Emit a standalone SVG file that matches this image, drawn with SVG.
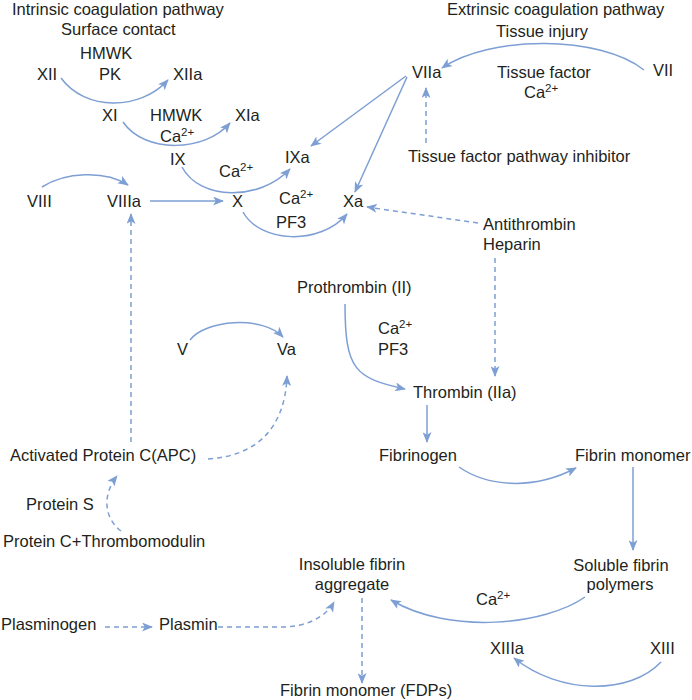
<svg xmlns="http://www.w3.org/2000/svg" width="692" height="700" viewBox="0 0 692 700">
<style>
text{font-family:"Liberation Sans",Arial,sans-serif;font-size:16.5px;fill:#231f20}
.sup{font-size:11.5px}
.c{fill:none;stroke:#7d9fd4;stroke-width:1.5}
.d{stroke-dasharray:5,4}
</style>
<defs>
<marker id="ah" viewBox="0 0 12 10" markerUnits="userSpaceOnUse" markerWidth="11" markerHeight="9" refX="11" refY="5" orient="auto">
<path d="M0,0 L12,5 L0,10 L3,5 z" fill="#7d9fd4"/>
</marker>
</defs>
<rect width="692" height="700" fill="#fff"/>
<g id="connectors">
<path class="c" d="M61,78 C85,111 140,111 168,80" marker-end="url(#ah)"/>
<path class="c" d="M123,122 C145,154 205,152 230,123" marker-end="url(#ah)"/>
<path class="c" d="M182,167 C200,201 260,201 290,169" marker-end="url(#ah)"/>
<path class="c" d="M406,76 L311,146" marker-end="url(#ah)"/>
<path class="c" d="M407,77 L355,192" marker-end="url(#ah)"/>
<path class="c" d="M644,70 C600,35 490,35 442,68" marker-end="url(#ah)"/>
<path class="c d" d="M426,143 L426,88" marker-end="url(#ah)"/>
<path class="c" d="M42,187 C65,172 105,170 128,185" marker-end="url(#ah)"/>
<path class="c" d="M150,201 L223,201" marker-end="url(#ah)"/>
<path class="c" d="M243,212 C260,243 320,246 347,214" marker-end="url(#ah)"/>
<path class="c d" d="M478,223 L367,207" marker-end="url(#ah)"/>
<path class="c d" d="M495,258 L495,376" marker-end="url(#ah)"/>
<path class="c" d="M345,304 C345,370 355,378 405,389" marker-end="url(#ah)"/>
<path class="c" d="M427,405 L427,442" marker-end="url(#ah)"/>
<path class="c" d="M459,467 C485,485 530,492 576,468" marker-end="url(#ah)"/>
<path class="c" d="M633,467 L633,550" marker-end="url(#ah)"/>
<path class="c" d="M585,597 C545,625 450,635 391,600" marker-end="url(#ah)"/>
<path class="c d" d="M362,598 L362,683" marker-end="url(#ah)"/>
<path class="c d" d="M105,627 L152,627" marker-end="url(#ah)"/>
<path class="c d" d="M218,627 L282,627 C305,627 325,618 334,602" marker-end="url(#ah)"/>
<path class="c d" d="M131,442 L131,214" marker-end="url(#ah)"/>
<path class="c d" d="M208,459 C255,456 285,430 287,376" marker-end="url(#ah)"/>
<path class="c d" d="M121,531 C104,518 102,495 117,476" marker-end="url(#ah)"/>
<path class="c" d="M190,340 C205,320 262,315 283,337" marker-end="url(#ah)"/>
<path class="c" d="M661,662 C630,695 560,695 514,658" marker-end="url(#ah)"/>
</g>
<g id="intrinsic-title"><text x="12" y="15">Intrinsic coagulation pathway</text><text x="61" y="35">Surface contact</text></g>
<g id="cofactor-hmwk-pk"><text x="80" y="59">HMWK</text><text x="99" y="80">PK</text></g>
<g id="XII"><text x="37" y="80">XII</text></g>
<g id="XIIa"><text x="173" y="80">XIIa</text></g>
<g id="XI"><text x="102" y="121">XI</text></g>
<g id="cofactor-hmwk-ca"><text x="150" y="121">HMWK</text><text x="160" y="142">Ca<tspan class="sup" dy="-6">2+</tspan></text></g>
<g id="XIa"><text x="235" y="121">XIa</text></g>
<g id="IX"><text x="170" y="165">IX</text></g>
<g id="cofactor-ca-ix"><text x="219" y="177">Ca<tspan class="sup" dy="-6">2+</tspan></text></g>
<g id="IXa"><text x="285" y="163">IXa</text></g>
<g id="extrinsic-title"><text x="447" y="15">Extrinsic coagulation pathway</text><text x="496" y="37">Tissue injury</text></g>
<g id="VIIa"><text x="412" y="78">VIIa</text></g>
<g id="VII"><text x="653" y="76">VII</text></g>
<g id="cofactor-tf"><text x="497" y="78">Tissue factor</text><text x="524" y="98">Ca<tspan class="sup" dy="-6">2+</tspan></text></g>
<g id="TFPI"><text x="408" y="162">Tissue factor pathway inhibitor</text></g>
<g id="VIII"><text x="27" y="207">VIII</text></g>
<g id="VIIIa"><text x="107" y="207">VIIIa</text></g>
<g id="X"><text x="232" y="207">X</text></g>
<g id="cofactor-ca-pf3-x"><text x="279" y="204">Ca<tspan class="sup" dy="-6">2+</tspan></text><text x="276" y="228">PF3</text></g>
<g id="Xa"><text x="343" y="207">Xa</text></g>
<g id="antithrombin"><text x="483" y="230">Antithrombin</text><text x="483" y="250">Heparin</text></g>
<g id="prothrombin"><text x="297" y="293">Prothrombin (II)</text></g>
<g id="cofactor-ca-pf3-ii"><text x="378" y="334">Ca<tspan class="sup" dy="-6">2+</tspan></text><text x="378" y="355">PF3</text></g>
<g id="V"><text x="177" y="355">V</text></g>
<g id="Va"><text x="277" y="355">Va</text></g>
<g id="thrombin"><text x="413" y="398">Thrombin (IIa)</text></g>
<g id="APC"><text x="10" y="461">Activated Protein C(APC)</text></g>
<g id="fibrinogen"><text x="379" y="461">Fibrinogen</text></g>
<g id="fibrin-monomer"><text x="575" y="461">Fibrin monomer</text></g>
<g id="protein-s"><text x="26" y="510">Protein S</text></g>
<g id="protein-c"><text x="3" y="547">Protein C+Thrombomodulin</text></g>
<g id="insoluble" text-anchor="middle"><text x="352" y="570">Insoluble fibrin</text><text x="352" y="590">aggregate</text></g>
<g id="soluble" text-anchor="middle"><text x="621" y="571">Soluble fibrin</text><text x="620" y="590">polymers</text></g>
<g id="cofactor-ca-xiii"><text x="476" y="605">Ca<tspan class="sup" dy="-6">2+</tspan></text></g>
<g id="plasminogen"><text x="1" y="630">Plasminogen</text></g>
<g id="plasmin"><text x="159" y="630">Plasmin</text></g>
<g id="XIIIa"><text x="490" y="654">XIIIa</text></g>
<g id="XIII"><text x="650" y="654">XIII</text></g>
<g id="FDPs"><text x="280" y="696">Fibrin monomer (FDPs)</text></g>
</svg>
